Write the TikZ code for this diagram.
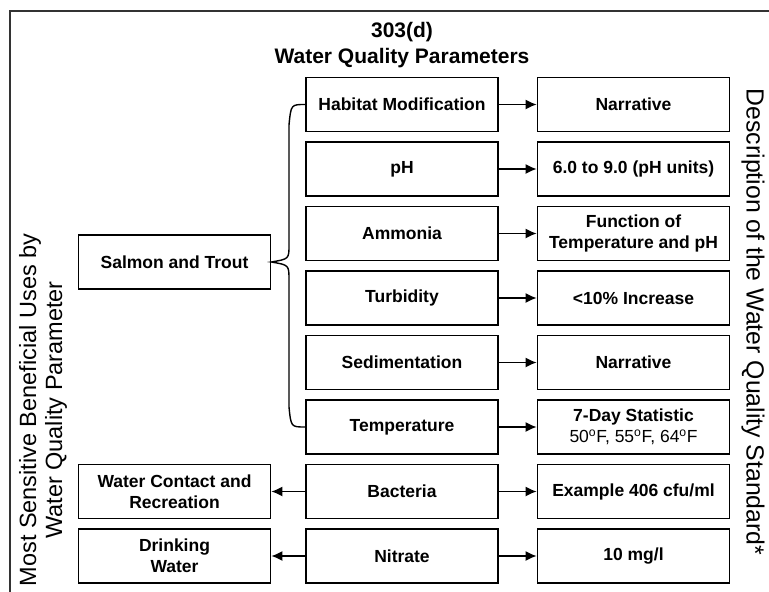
\documentclass[tikz,border=0pt]{standalone}
\usepackage{fontspec}
\setmainfont{Liberation Sans}
\usepackage{tikz}
\usetikzlibrary{arrows.meta}

\begin{document}
\begin{tikzpicture}[x=1pt,y=-1pt,
  box/.style={draw,line width=1.6pt,minimum width=192pt,minimum height=54pt,
    inner sep=0pt,align=center,font=\fontsize{17.5}{21}\selectfont\bfseries},
  arr/.style={line width=1.6pt,-{Latex[length=11pt,width=10pt]}},
  brace/.style={line width=1.4pt},
  frame/.style={line width=2pt,draw=black!80},
  side/.style={align=center,font=\fontsize{23.5}{26}\selectfont}]
\useasboundingbox (0,0) rectangle (769,592);
\draw[frame] (10,592) -- (10,11) -- (769,11);
% title
\node[font=\fontsize{21}{26}\selectfont\bfseries] (t1) at (402,32) {303(d)};
\node[font=\fontsize{21}{26}\selectfont\bfseries] (t2) at (402,58) {Water Quality Parameters};
% side labels
\node[side,rotate=90] (uses) at (43,410) {Most Sensitive Beneficial Uses by\\Water Quality Parameter};
\node[side,rotate=-90,font=\fontsize{24.8}{26}\selectfont] (desc) at (753,322) {Description of the Water Quality Standard*};
% parameters
\node[box] (hab) at (402,104.5) {Habitat Modification};
\node[box] (ph) at (402,169) {pH};
\node[box] (amm) at (402,233.5) {Ammonia};
\node[box] (turb) at (402,298) {Turbidity};
\node[box] (sed) at (402,362.5) {Sedimentation};
\node[box] (temp) at (402,427) {Temperature};
\node[box] (bact) at (402,491.5) {Bacteria};
\node[box] (nit) at (402,556) {Nitrate};
% standards
\node[box] (habs) at (633.5,104.5) {Narrative};
\node[box] (phs) at (633.5,169) {6.0 to 9.0 (pH units)};
\node[box] (amms) at (633.5,233.5) {Function of\\Temperature and pH};
\node[box] (turbs) at (633.5,298) {<10\% Increase};
\node[box] (seds) at (633.5,362.5) {Narrative};
\node[box] (temps) at (633.5,427) {7-Day Statistic\\{\mdseries 50\textsuperscript{o}F, 55\textsuperscript{o}F, 64\textsuperscript{o}F}};
\node[box] (bacts) at (633.5,491.5) {Example 406 cfu/ml};
\node[box] (nits) at (633.5,556) {10 mg/l};
% uses
\node[box] (salmon) at (174.5,262) {Salmon and Trout};
\node[box] (contact) at (174.5,491.5) {Water Contact and\\Recreation};
\node[box] (drink) at (174.5,556) {Drinking\\Water};
% arrows
\draw[arr] (hab) -- (habs);
\draw[arr] (ph) -- (phs);
\draw[arr] (amm) -- (amms);
\draw[arr] (turb) -- (turbs);
\draw[arr] (sed) -- (seds);
\draw[arr] (temp) -- (temps);
\draw[arr] (bact) -- (bacts);
\draw[arr] (nit) -- (nits);
\draw[arr] (bact) -- (contact);
\draw[arr] (nit) -- (drink);
% brace
\draw[brace] (hab.west) .. controls (291,104.5) .. (289,125) -- (289,245)
  .. controls (289,259) .. (salmon.east) .. controls (289,265) .. (289,280)
  -- (289,407) .. controls (291,427) .. (temp.west);
\end{tikzpicture}
\end{document}
